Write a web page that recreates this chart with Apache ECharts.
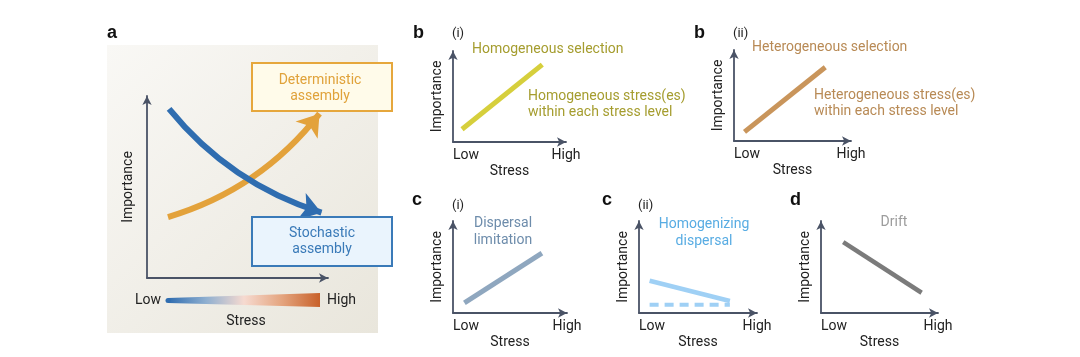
<!DOCTYPE html>
<html>
<head>
<meta charset="utf-8">
<script src="https://cdn.jsdelivr.net/npm/echarts@6/dist/echarts.min.js"></script>
<style>
html,body{margin:0;padding:0;background:#fff;}
#chart{width:1080px;height:357px;}
</style>
</head>
<body>
<div id="chart"></div>
<script>
// ---------- data ----------
const tickLabels = ['Low', 'High'];
const xAxisName = 'Stress';
const yAxisName = 'Importance';
const stressRange = [0, 100];
const importanceRange = [0, 100];

// panel a (conceptual curves, start -> arrow tip)
const stochasticCurve = [[12.2, 92.9], [96.4, 35.9]];
const deterministicCurve = [[11.6, 33.5], [95.3, 90.3]];
// panels b-d (lines, start -> end)
const homogeneousSelection = [[8, 14], [79, 85]];
const heterogeneousSelection = [[9, 10], [78, 81]];
const dispersalLimitation = [[10, 11], [78, 65]];
const homogenizingDispersal = [[9, 35], [77, 13]];
const homogenizingBaseline = [[9, 9], [77, 9]];
const drift = [[19, 77], [86, 22]];

// ---------- styles ----------
const FONT = 'Roboto, "Noto Sans", sans-serif';
const AXIS_COLOR = '#4a5366';
const TXT = '#222';

const grids = [
  {left: 147, top: 96, width: 181, height: 182},  // a
  {left: 453, top: 51, width: 113, height: 91},   // b(i)
  {left: 734, top: 50, width: 117, height: 91},   // b(ii)
  {left: 453, top: 221, width: 114, height: 92},  // c(i)
  {left: 639, top: 221, width: 118, height: 92},  // c(ii)
  {left: 821, top: 221, width: 117, height: 92}   // d
];

function axisLine() {
  return {show: true, symbol: ['none', 'arrow'], symbolSize: [7, 9],
    lineStyle: {color: AXIS_COLOR, width: 1.8}};
}
const xAxes = grids.map((g, i) => ({
  type: 'value', gridIndex: i, min: stressRange[0], max: stressRange[1], interval: 100,
  axisLine: axisLine(), axisTick: {show: false}, splitLine: {show: false},
  axisLabel: i === 0 ? {show: false} : {
    show: true, margin: 6, color: TXT, fontSize: 14, fontFamily: FONT,
    alignMinLabel: 'left',
    formatter: v => v === stressRange[0] ? tickLabels[0] : tickLabels[1]
  },
  name: i === 0 ? '' : xAxisName, nameLocation: 'middle', nameGap: 22,
  nameTextStyle: {color: TXT, fontSize: 14, fontFamily: FONT}
}));
const yAxes = grids.map((g, i) => ({
  type: 'value', gridIndex: i, min: importanceRange[0], max: importanceRange[1],
  axisLine: axisLine(), axisTick: {show: false}, splitLine: {show: false},
  axisLabel: {show: false},
  name: yAxisName, nameLocation: 'middle', nameGap: i === 0 ? 12 : 9, nameRotate: 90,
  nameTextStyle: {color: TXT, fontSize: 14, fontFamily: FONT}
}));

function seg(idx, data, color, width, dashed) {
  return {type: 'line', xAxisIndex: idx, yAxisIndex: idx, data: data,
    showSymbol: false, symbol: 'none', silent: true,
    lineStyle: {color: color, width: width, type: dashed ? [9, 6] : 'solid', cap: 'butt'}};
}
function curve(data, color, curveness) {
  return {type: 'lines', coordinateSystem: 'cartesian2d', xAxisIndex: 0, yAxisIndex: 0,
    symbol: ['none', 'arrow'], symbolSize: [17, 21], silent: true, z: 3,
    lineStyle: {color: color, width: 6, curveness: curveness, opacity: 1},
    data: [{coords: data}]};
}

function txt(x, y, s, color, opts) {
  return Object.assign({type: 'text', x: x, y: y, z: 20,
    style: Object.assign({text: s, fill: color, font: '14px ' + FONT,
      textAlign: 'left', textVerticalAlign: 'middle'}, opts || {})});
}
function bold(x, y, s) {
  return txt(x, y, s, '#111', {font: '900 18px "Liberation Sans", Arial, sans-serif'});
}

const OLIVE = '#a59d2f', TAN = '#b88a55', SLATE = '#6d8cab', SKY = '#58ace3', GREY = '#9c9c9c';

const graphics = [
  // panel a background
  {type: 'rect', z: -10, shape: {x: 107, y: 45, width: 271, height: 288},
    style: {fill: {type: 'linear', x: 0, y: 0, x2: 1, y2: 1, colorStops: [
      {offset: 0, color: '#f9f8f5'}, {offset: 1, color: '#e9e6dc'}]}}},
  // gradient stress bar
  {type: 'polygon', z: 5, shape: {points: [[168, 298], [320, 293], [320, 307], [168, 303]]},
    style: {fill: {type: 'linear', x: 0, y: 0, x2: 1, y2: 0, colorStops: [
      {offset: 0, color: '#2f6db0'}, {offset: 0.25, color: '#8fafd0'},
      {offset: 0.5, color: '#f6dad0'}, {offset: 0.75, color: '#e4a47e'},
      {offset: 1, color: '#c8612a'}]}}},
  {type: 'circle', z: 5, shape: {cx: 168, cy: 300.5, r: 2.5}, style: {fill: '#2f6db0'}},
  // boxes
  {type: 'rect', z: 10, shape: {x: 252, y: 63, width: 140, height: 48},
    style: {fill: '#fffbea', stroke: '#e6a73c', lineWidth: 2}},
  {type: 'rect', z: 10, shape: {x: 252, y: 217, width: 140, height: 49},
    style: {fill: '#eaf4fd', stroke: '#3a7ab8', lineWidth: 2}},
  txt(320, 80, 'Deterministic', '#e0a23a', {textAlign: 'center'}),
  txt(320, 96, 'assembly', '#e0a23a', {textAlign: 'center'}),
  txt(322, 233, 'Stochastic', '#3a7ab8', {textAlign: 'center'}),
  txt(322, 249, 'assembly', '#3a7ab8', {textAlign: 'center'}),
  txt(135, 300, tickLabels[0], TXT),
  txt(327, 300, tickLabels[1], TXT),
  txt(246, 321, xAxisName, TXT, {textAlign: 'center'}),
  // panel letters
  bold(107, 33, 'a'), bold(413, 33, 'b'), bold(694, 33, 'b'),
  bold(412, 200, 'c'), bold(602, 200, 'c'), bold(790, 200, 'd'),
  txt(452, 34, '(i)', TXT, {font: '13px ' + FONT}),
  txt(733, 34, '(ii)', TXT, {font: '13px ' + FONT}),
  txt(452, 206, '(i)', TXT, {font: '13px ' + FONT}),
  txt(638, 206, '(ii)', TXT, {font: '13px ' + FONT}),
  // annotations
  txt(472, 49, 'Homogeneous selection', OLIVE),
  txt(528, 96, 'Homogeneous stress(es)', OLIVE),
  txt(528, 112, 'within each stress level', OLIVE),
  txt(752, 47, 'Heterogeneous selection', TAN),
  txt(814, 95, 'Heterogeneous stress(es)', TAN),
  txt(814, 111, 'within each stress level', TAN),
  txt(503, 223, 'Dispersal', SLATE, {textAlign: 'center'}),
  txt(503, 240, 'limitation', SLATE, {textAlign: 'center'}),
  txt(704, 224, 'Homogenizing', SKY, {textAlign: 'center'}),
  txt(704, 241, 'dispersal', SKY, {textAlign: 'center'}),
  txt(894, 222, 'Drift', GREY, {textAlign: 'center'})
];

const chart = echarts.init(document.getElementById('chart'), null, {renderer: 'canvas'});
chart.setOption({
  animation: false,
  backgroundColor: '#ffffff',
  grid: grids,
  xAxis: xAxes,
  yAxis: yAxes,
  graphic: graphics,
  series: [
    curve(deterministicCurve, '#e3a23b', -0.16),
    curve(stochasticCurve, '#2f6db0', -0.15),
    seg(1, homogeneousSelection, '#d6cf3c', 5),
    seg(2, heterogeneousSelection, '#c9955b', 5),
    seg(3, dispersalLimitation, '#8fa7bf', 5),
    seg(4, homogenizingDispersal, '#9fd0f5', 4.5),
    seg(4, homogenizingBaseline, '#9fd0f5', 4, true),
    seg(5, drift, '#7b7b7b', 4.5)
  ]
});
</script>
</body>
</html>
